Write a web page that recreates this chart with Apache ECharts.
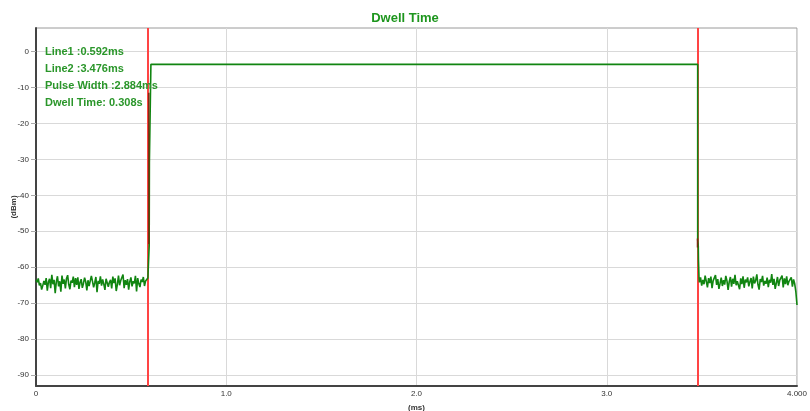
<!DOCTYPE html>
<html><head><meta charset="utf-8">
<script src="https://cdn.jsdelivr.net/npm/echarts@6/dist/echarts.min.js"></script>
<style>html,body{margin:0;padding:0;background:#fff}#c{width:810px;height:411px}</style>
</head><body><div id="c"></div>
<script>
// ---- data ----
var titleText = 'Dwell Time';
var cursorLines = [0.592, 3.476];
var dwellTime = '0.308s';
var xTicks = [0, 1, 2, 3, 4];
var xTickLabels = ['0', '1.0', '2.0', '3.0', '4.000'];
var yTicks = [0, -10, -20, -30, -40, -50, -60, -70, -80, -90];

// left noise floor (0 .. 0.588 ms)
var leftStart = 0, leftEnd = 0.588;
var leftNoise = [-63.5,-64.2,-63.1,-65.0,-64.4,-66.2,-65.1,-63.8,-64.9,-63.0,-66.5,-64.1,-63.2,-65.8,-62.1,-64.7,-63.5,-67.2,-64.0,-62.5,
-65.3,-63.9,-66.8,-62.3,-64.6,-63.4,-65.9,-63.1,-62.2,-64.8,-66.1,-63.7,-64.3,-62.6,-65.5,-63.0,-64.9,-62.8,-66.0,-64.2,
-63.3,-65.7,-64.5,-62.9,-64.0,-66.4,-63.6,-65.2,-64.8,-62.4,-63.9,-65.6,-64.3,-62.7,-66.9,-63.8,-64.6,-62.5,-65.1,-63.4,
-64.7,-66.3,-63.2,-62.9,-65.4,-64.1,-63.5,-65.9,-62.6,-64.4,-63.1,-66.6,-64.8,-62.3,-65.0,-63.7,-64.2,-62.0,-65.8,-63.6,
-64.9,-63.3,-66.2,-64.0,-62.8,-65.3,-63.9,-64.5,-62.4,-66.7,-63.0,-64.6,-65.5,-63.4,-64.1,-62.7,-65.2,-63.8,-64.3,-63.0];

// rising edge and plateau
var riseX = [0.593, 0.595, 0.596, 0.603, 0.604, 0.700, 0.705, 0.710, 3.478];
var riseY = [-63.0, -54.0, -31.0, -31.0, -3.6, -3.6, -3.3, -3.6, -3.6];

// falling edge
var fallX = [3.478, 3.479, 3.481, 3.482, 3.485];
var fallY = [-52.5, -52.5, -54.0, -58.0, -63.0];

// right noise floor (3.487 .. 4.0 ms)
var rightStart = 3.487, rightEnd = 4.0;
var rightNoise = [-64.2,-62.8,-65.1,-63.5,-64.7,-62.3,-63.9,-65.6,-63.0,-64.4,-62.6,-65.8,-63.7,-64.1,-62.2,-64.9,-63.3,-66.0,-64.5,-62.9,
-65.2,-63.6,-64.8,-62.4,-63.8,-66.3,-64.0,-62.7,-65.4,-63.2,-64.6,-62.1,-65.0,-63.9,-64.3,-66.1,-63.1,-64.7,-62.5,-65.7,
-63.4,-64.2,-62.8,-65.3,-64.0,-63.0,-65.9,-62.6,-64.5,-63.7,-62.0,-64.8,-66.2,-63.3,-64.1,-62.4,-65.1,-63.8,-64.6,-62.9,
-65.5,-63.5,-64.3,-61.9,-64.9,-63.2,-66.0,-64.4,-62.7,-65.2,-63.6,-64.0,-62.3,-65.6,-63.1,-64.7,-62.5,-65.0,-63.9,-64.2,
-62.8,-65.4,-63.4,-64.6,-66.8,-70.5];

// dark overlapping trace segments at the edges
var darkRiseX = [0.593, 0.593], darkRiseY = [-11.5, -53.5];
var darkFallX = [3.477, 3.477], darkFallY = [-52.0, -54.5];

// ---- build ----
function seq(vals, a, b) {
  var n = vals.length, out = [];
  for (var i = 0; i < n; i++) out.push([a + (b - a) * i / (n - 1), vals[i]]);
  return out;
}
function zip(xs, ys) { return xs.map(function (x, i) { return [x, ys[i]]; }); }

var trace = seq(leftNoise, leftStart, leftEnd)
  .concat(zip(riseX, riseY))
  .concat(zip(fallX, fallY))
  .concat(seq(rightNoise, rightStart, rightEnd));

var font = 'Arial, "Liberation Sans", sans-serif';
var annot = [
  'Line1 :' + cursorLines[0].toFixed(3) + 'ms',
  'Line2 :' + cursorLines[1].toFixed(3) + 'ms',
  'Pulse Width :' + (cursorLines[1] - cursorLines[0]).toFixed(3) + 'ms',
  'Dwell Time: ' + dwellTime
];

var chart = echarts.init(document.getElementById('c'), null, {renderer: 'canvas'});
chart.setOption({
  animation: false,
  backgroundColor: '#fff',
  title: {
    text: titleText, left: 'center', top: 7,
    textStyle: {fontFamily: font, fontSize: 13, fontWeight: 'bold', color: '#1e961e'}
  },
  grid: {left: 36, right: 13, top: 28, bottom: 25, show: true, borderColor: '#9a9a9a', borderWidth: 1,
         containLabel: false, outerBoundsMode: 'none'},
  xAxis: {
    type: 'value', min: 0, max: 4, interval: 1,
    name: '(ms)', nameLocation: 'middle', nameGap: 18, nameMoveOverlap: false,
    nameTextStyle: {fontFamily: font, fontSize: 8, fontWeight: 'bold', color: '#333'},
    axisLine: {show: true, onZero: false, lineStyle: {color: '#444', width: 2}},
    axisTick: {show: false},
    axisLabel: {margin: 4, fontFamily: font, fontSize: 8, color: '#333',
      formatter: function (v) { var i = xTicks.indexOf(v); return i >= 0 ? xTickLabels[i] : ''; }},
    splitLine: {show: true, lineStyle: {color: '#d9d9d9', width: 1}}
  },
  yAxis: {
    type: 'value', min: -93, max: 6.5,
    name: '(dBm)', nameLocation: 'middle', nameGap: 18, nameMoveOverlap: false,
    nameTextStyle: {fontFamily: font, fontSize: 8, fontWeight: 'bold', color: '#333'},
    axisLine: {show: true, onZero: false, lineStyle: {color: '#444', width: 2}},
    axisTick: {show: true, length: 5, customValues: yTicks, lineStyle: {color: '#aaa'}},
    axisLabel: {margin: 7, fontFamily: font, fontSize: 8, color: '#333', customValues: yTicks},
    splitLine: {show: true, lineStyle: {color: '#d9d9d9', width: 1}}
  },
  series: [
    {
      type: 'line', data: [], z: 1, silent: true,
      markLine: {
        silent: true, symbol: 'none', animation: false, z: 1,
        label: {show: false},
        lineStyle: {color: '#ff4444', width: 2, type: 'solid'},
        data: cursorLines.map(function (v) { return {xAxis: v}; })
      }
    },
    {
      type: 'line', data: trace, z: 3, showSymbol: false, symbol: 'none',
      lineStyle: {color: '#118511', width: 1.6}, silent: true
    },
    {
      type: 'line', data: zip(darkRiseX, darkRiseY), z: 4, showSymbol: false, symbol: 'none',
      lineStyle: {color: '#7a2a0e', width: 1.5}, silent: true
    },
    {
      type: 'line', data: zip(darkFallX, darkFallY), z: 4, showSymbol: false, symbol: 'none',
      lineStyle: {color: '#7a2a0e', width: 1.5}, silent: true
    }
  ],
  graphic: annot.map(function (t, i) {
    return {
      type: 'text', left: 45, top: 46 + i * 17.3, z: 10,
      style: {text: t, font: 'bold 11px ' + font, fill: '#2a962a'}
    };
  })
});
</script>
</body></html>
